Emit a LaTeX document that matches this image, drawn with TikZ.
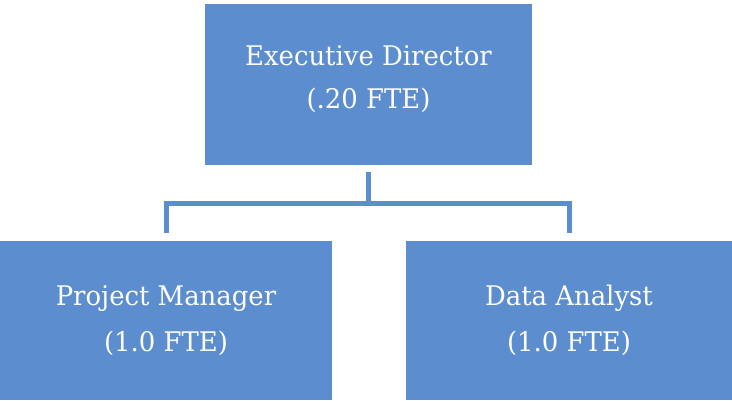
\documentclass[tikz,border=0pt]{standalone}
\usepackage{fontspec}
\setmainfont{DejaVu Serif}[FakeStretch=0.96]
\usetikzlibrary{positioning}
\definecolor{boxblue}{RGB}{92,142,207}

\begin{document}
\begin{tikzpicture}[x=1pt,y=1pt,
  role/.style={rectangle,fill=boxblue,text=white,align=center,inner sep=0pt,
    font=\fontsize{27}{46}\selectfont},
  link/.style={boxblue,line width=5pt}]
\fill[white] (0,0) rectangle (732,-401);
\node[role,minimum width=327,minimum height=161,text depth=15pt,
  font=\fontsize{27}{43}\selectfont] (ed) at (368.5,-84.5){Executive Director\\(.20 FTE)};
\node[role,minimum width=332,minimum height=159] (pm) at (166,-320.5){Project Manager\\(1.0 FTE)};
\node[role,minimum width=326,minimum height=159] (da) at (569,-320.5){Data Analyst\\(1.0 FTE)};
% tree connector, with small gaps at the boxes
\draw[link] ([yshift=-7pt]ed.south) -- ++(0,-31) coordinate (fork);
\draw[link] (fork) -| ([yshift=8pt]pm.north);
\draw[link] (fork) -| ([yshift=8pt]da.north);
\end{tikzpicture}
\end{document}
